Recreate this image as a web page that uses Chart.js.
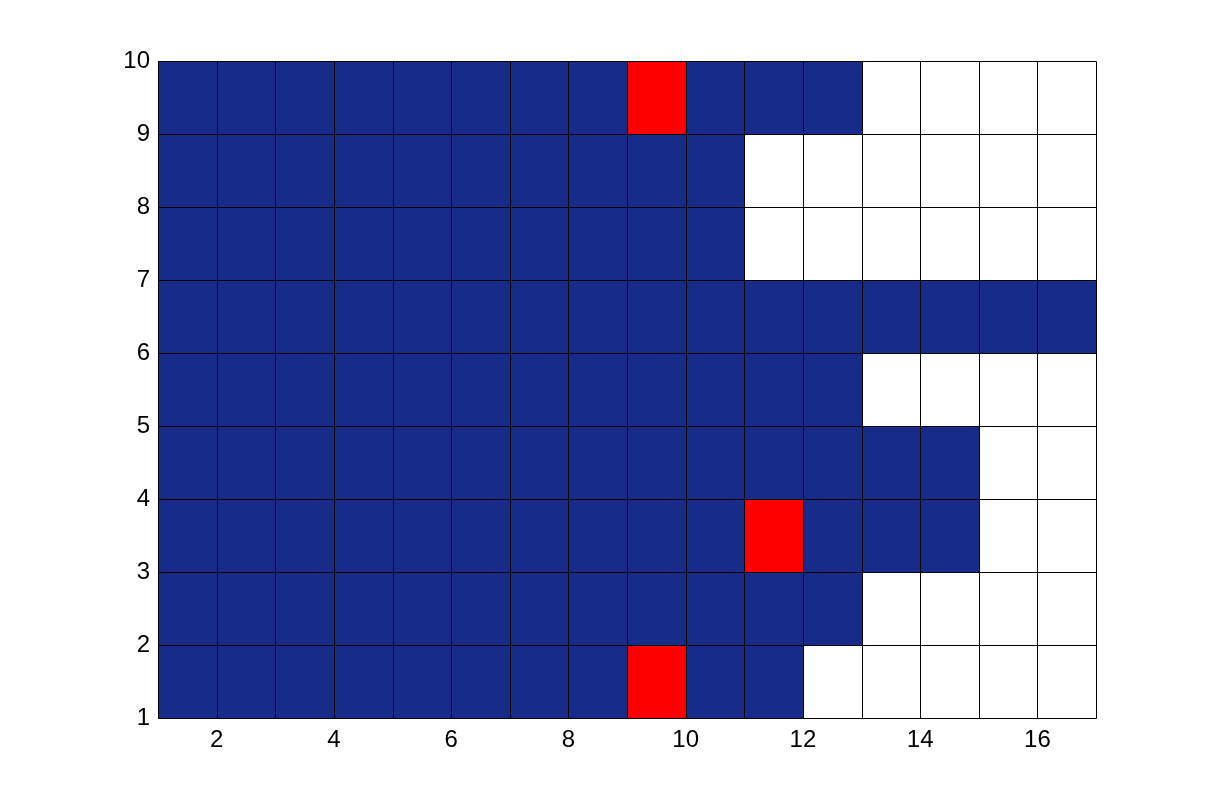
<!DOCTYPE html>
<html>
<head>
<meta charset="utf-8">
<script src="https://cdn.jsdelivr.net/npm/chart.js@4.4.0/dist/chart.umd.min.js"></script>
<style>
  html, body { margin: 0; padding: 0; background: #fff; }
  #wrap { width: 1211px; height: 808px; }
</style>
</head>
<body>
<div id="wrap"><canvas id="myChart" width="1211" height="808"></canvas></div>
<script>
// cell edges
const xEdges = [1,2,3,4,5,6,7,8,9,10,11,12,13,14,15,16,17];
const yEdges = [1,2,3,4,5,6,7,8,9,10];
const xTicks = [2,4,6,8,10,12,14,16];
const yTicks = [1,2,3,4,5,6,7,8,9,10];

// 0 = empty (white), 1 = blue, 2 = red ; bottom row first
const row1 = [1,1,1,1,1,1,1,1,2,1,1,0,0,0,0,0];
const row2 = [1,1,1,1,1,1,1,1,1,1,1,1,0,0,0,0];
const row3 = [1,1,1,1,1,1,1,1,1,1,2,1,1,1,0,0];
const row4 = [1,1,1,1,1,1,1,1,1,1,1,1,1,1,0,0];
const row5 = [1,1,1,1,1,1,1,1,1,1,1,1,0,0,0,0];
const row6 = [1,1,1,1,1,1,1,1,1,1,1,1,1,1,1,1];
const row7 = [1,1,1,1,1,1,1,1,1,1,0,0,0,0,0,0];
const row8 = [1,1,1,1,1,1,1,1,1,1,0,0,0,0,0,0];
const row9 = [1,1,1,1,1,1,1,1,2,1,1,1,0,0,0,0];
const rows = [row1,row2,row3,row4,row5,row6,row7,row8,row9];

const cellColors = ['#ffffff', '#162b8a', '#ff0000'];

const cells = [];
rows.forEach((r, j) => {
  r.forEach((v, i) => {
    cells.push({x: xEdges[i], x2: xEdges[i+1], y: yEdges[j], y2: yEdges[j+1], v: v});
  });
});

const cellPlugin = {
  id: 'cells',
  beforeDatasetsDraw(chart) {
    const ctx = chart.ctx;
    const xs = chart.scales.x, ys = chart.scales.y;
    ctx.save();
    cells.forEach(c => {
      const x0 = Math.round(xs.getPixelForValue(c.x));
      const x1 = Math.round(xs.getPixelForValue(c.x2));
      const y0 = Math.round(ys.getPixelForValue(c.y2));
      const y1 = Math.round(ys.getPixelForValue(c.y));
      ctx.fillStyle = cellColors[c.v];
      ctx.fillRect(x0, y0, x1 - x0, y1 - y0);
    });
    ctx.strokeStyle = '#000';
    ctx.lineWidth = 1;
    ctx.beginPath();
    cells.forEach(c => {
      const x0 = Math.round(xs.getPixelForValue(c.x)) + 0.5;
      const x1 = Math.round(xs.getPixelForValue(c.x2)) + 0.5;
      const y0 = Math.round(ys.getPixelForValue(c.y2)) + 0.5;
      const y1 = Math.round(ys.getPixelForValue(c.y)) + 0.5;
      ctx.rect(x0, y0, x1 - x0, y1 - y0);
    });
    ctx.stroke();
    ctx.restore();
  }
};

const tickFont = { family: '"Liberation Sans", Helvetica, Arial, sans-serif', size: 24 };

new Chart(document.getElementById('myChart'), {
  type: 'scatter',
  data: {
    datasets: [{
      data: cells.map(c => ({x: (c.x + c.x2) / 2, y: (c.y + c.y2) / 2})),
      pointRadius: 0,
      pointHoverRadius: 0
    }]
  },
  plugins: [cellPlugin],
  options: {
    responsive: false,
    animation: false,
    layout: { padding: { left: 0, top: 61, right: 115, bottom: 0 } },
    plugins: { legend: { display: false }, tooltip: { enabled: false } },
    scales: {
      x: {
        type: 'linear', min: 1, max: 17,
        afterBuildTicks: (s) => { s.ticks = xTicks.map(v => ({value: v})); },
        afterFit: (s) => { s.height = 90; },
        grid: { display: false, drawTicks: false },
        border: { display: false },
        ticks: { color: '#000', font: tickFont, padding: 8, maxRotation: 0 }
      },
      y: {
        type: 'linear', min: 1, max: 10,
        afterBuildTicks: (s) => { s.ticks = yTicks.map(v => ({value: v})); },
        afterFit: (s) => { s.width = 158; },
        grid: { display: false, drawTicks: false },
        border: { display: false },
        ticks: { color: '#000', font: tickFont, padding: 8 }
      }
    }
  }
});
</script>
</body>
</html>
